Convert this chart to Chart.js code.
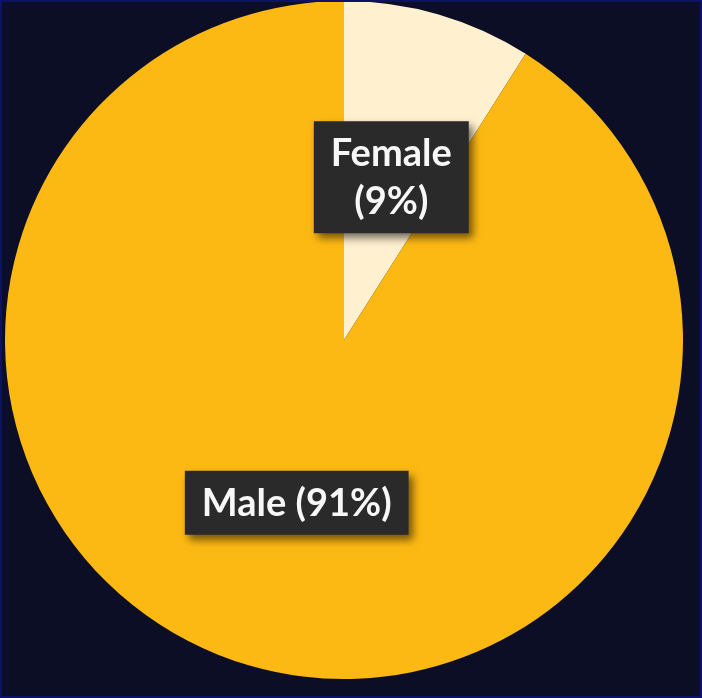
<!DOCTYPE html>
<html>
<head>
<meta charset="utf-8">
<script src="https://cdn.jsdelivr.net/npm/chart.js@4/dist/chart.umd.min.js"></script>
<style>
  html, body { margin: 0; padding: 0; background: #0b0e24; }
  #wrap { position: relative; width: 702px; height: 698px; }
  #frame { position: absolute; left: 0; top: 0; width: 698px; height: 694px;
           border: 2px solid #0d1268; pointer-events: none; }
</style>
</head>
<body>
<div id="wrap">
  <canvas id="c" width="702" height="698"></canvas>
  <div id="frame"></div>
</div>
<script>
const categories = ['Female', 'Male'];
const shares = [9, 91];
const sliceLabels = [['Female', '(9%)'], ['Male (91%)']];
const sliceColors = ['#fff0cf', '#fdb913'];

// Dark label boxes placed at each slice's centroid
const boxLabels = {
  id: 'boxLabels',
  afterDatasetsDraw(chart) {
    const ctx = chart.ctx;
    const meta = chart.getDatasetMeta(0);
    const fontSize = 38;
    const lineH = 48;
    const padX = 17, padY = 12;
    ctx.save();
    ctx.font = 'bold ' + fontSize + 'px Lato';
    meta.data.forEach((arc, i) => {
      const p = arc.tooltipPosition();
      const lines = sliceLabels[i];
      const w = Math.max(...lines.map(l => ctx.measureText(l).width)) + padX * 2;
      const h = lines.length * lineH + padY * 2 - (lineH - fontSize) + 2;
      const x = p.x - w / 2, y = p.y - h / 2;
      ctx.save();
      ctx.shadowColor = 'rgba(0,0,0,0.55)';
      ctx.shadowBlur = 8;
      ctx.shadowOffsetX = 4;
      ctx.shadowOffsetY = 5;
      ctx.fillStyle = '#2b2a2b';
      ctx.fillRect(x, y, w, h);
      ctx.restore();
      ctx.fillStyle = '#f7f7f7';
      ctx.textAlign = 'center';
      ctx.textBaseline = 'middle';
      const total = lines.length * lineH;
      lines.forEach((l, k) => {
        ctx.fillText(l, p.x, p.y - total / 2 + lineH * k + lineH / 2 + 1);
      });
    });
    ctx.restore();
  }
};

new Chart(document.getElementById('c'), {
  type: 'pie',
  data: {
    labels: categories,
    datasets: [{
      data: shares,
      backgroundColor: sliceColors,
      borderWidth: 0
    }]
  },
  options: {
    responsive: false,
    animation: false,
    layout: { padding: { left: 5, right: 19, top: 1, bottom: 19 } },
    plugins: {
      legend: { display: false },
      tooltip: { enabled: false }
    }
  },
  plugins: [boxLabels]
});
</script>
</body>
</html>
